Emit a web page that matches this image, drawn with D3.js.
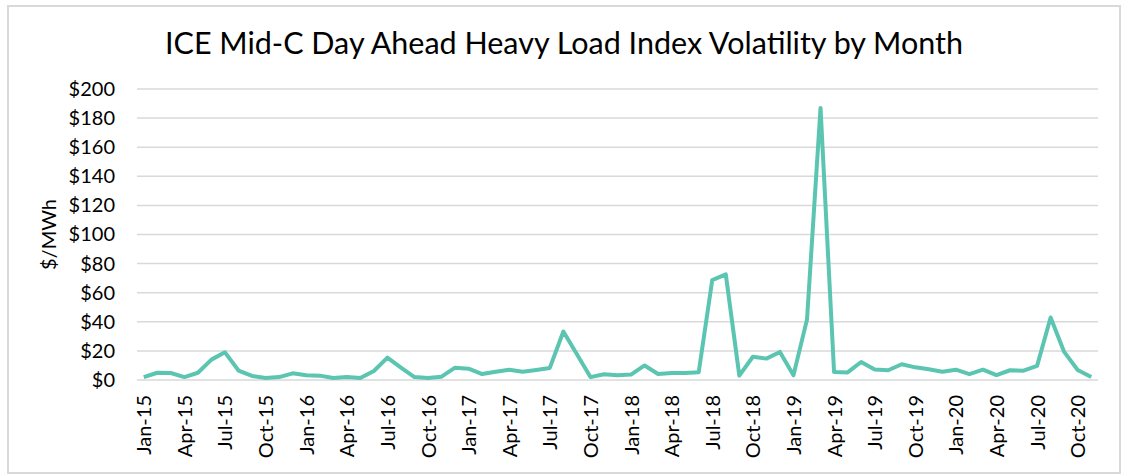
<!DOCTYPE html>
<html>
<head>
<meta charset="utf-8">
<script src="https://cdn.jsdelivr.net/npm/d3@7"></script>
<style>
  body { margin: 0; background: #fff; }
  text { font-family: Lato, "Open Sans", sans-serif; fill: #000; }
</style>
</head>
<body>
<div id="chart"></div>
<script>
// Categories: Jan-15 .. Nov-20
const monthNames = ["Jan", "Feb", "Mar", "Apr", "May", "Jun", "Jul", "Aug", "Sep", "Oct", "Nov", "Dec"];
const years = ["15", "16", "17", "18", "19", "20"];
const months = [];
years.forEach(y => monthNames.forEach(m => months.push(`${m}-${y}`)));
months.splice(71); // last month shown is Nov-20

// Volatility, $/MWh
const volatility = [
  2, 5, 4.8, 2, 5, 14, 19, 6.5, 2.8, 1.4, 2, 4.6,
  3.2, 3, 1.4, 2, 1.4, 6.2, 15.4, 8.5, 2, 1.4, 2.3, 8.5,
  7.8, 4.1, 5.7, 7.1, 5.7, 6.9, 8.3, 33.3, 17.7, 2, 3.9, 3.2,
  3.7, 10, 4.1, 4.8, 4.8, 5.3, 68.7, 72.6, 3, 16, 14.7, 19.3,
  3.2, 41.5, 187, 5.5, 5.2, 12.4, 7.2, 6.7, 10.8, 8.7, 7.4, 5.7,
  7.1, 4.1, 7.1, 3.4, 6.7, 6.4, 9.7, 43, 19.3, 6.9, 2
];

const yTicks = [0, 20, 40, 60, 80, 100, 120, 140, 160, 180, 200];
const title = "ICE Mid-C Day Ahead Heavy Load Index Volatility by Month";

const width = 1122, height = 475;
const plot = { left: 137, right: 1098, top: 89, bottom: 380 };

const svg = d3.select("#chart").append("svg")
    .attr("width", width)
    .attr("height", height);

// Outer frame
svg.append("rect")
    .attr("x", 8).attr("y", 6)
    .attr("width", 1112).attr("height", 467)
    .attr("fill", "#fff")
    .attr("stroke", "#d9d9d9")
    .attr("stroke-width", 2);

const x = d3.scalePoint()
    .domain(months)
    .range([plot.left, plot.right])
    .padding(0.5);

const y = d3.scaleLinear()
    .domain([0, 200])
    .range([plot.bottom, plot.top]);

// Gridlines
svg.append("g")
    .selectAll("line")
    .data(yTicks)
    .enter()
    .append("line")
    .attr("x1", plot.left)
    .attr("x2", plot.right)
    .attr("y1", d => y(d))
    .attr("y2", d => y(d))
    .attr("stroke", "#d9d9d9")
    .attr("stroke-width", 1.5);

// Y axis labels
const yAxis = svg.append("g")
    .attr("transform", `translate(${plot.left - 22},0)`)
    .call(d3.axisLeft(y).tickValues(yTicks).tickFormat(d => `$${d}`).tickSize(0));
yAxis.select(".domain").remove();
yAxis.selectAll("text")
    .attr("x", 0)
    .style("font-size", "20px")
    .style("font-family", "Lato, 'Open Sans', sans-serif")
    .attr("fill", "#000");

// X axis labels, every third month
const xTicks = months.filter((d, i) => i % 3 === 0);
const xAxis = svg.append("g")
    .attr("transform", `translate(0,${plot.bottom})`)
    .call(d3.axisBottom(x).tickValues(xTicks).tickSize(0));
xAxis.select(".domain").remove();
xAxis.selectAll("text")
    .attr("transform", "rotate(-90)")
    .attr("x", -15)
    .attr("y", 0)
    .attr("dy", "0.35em")
    .style("text-anchor", "end")
    .style("font-size", "20px")
    .style("font-family", "Lato, 'Open Sans', sans-serif")
    .attr("fill", "#000");

// Line
const line = d3.line()
    .x((d, i) => x(months[i]))
    .y(d => y(d));

svg.append("path")
    .datum(volatility)
    .attr("d", line)
    .attr("fill", "none")
    .attr("stroke", "#5bc5b2")
    .attr("stroke-width", 4)
    .attr("stroke-linejoin", "round");

// Title
svg.append("text")
    .attr("x", 564)
    .attr("y", 54)
    .attr("text-anchor", "middle")
    .style("font-size", "30.5px")
    .text(title);

// Y axis title
svg.append("text")
    .attr("transform", `translate(49,${(plot.top + plot.bottom) / 2}) rotate(-90)`)
    .attr("text-anchor", "middle")
    .attr("dy", "0.35em")
    .style("font-size", "20px")
    .text("$/MWh");
</script>
</body>
</html>
